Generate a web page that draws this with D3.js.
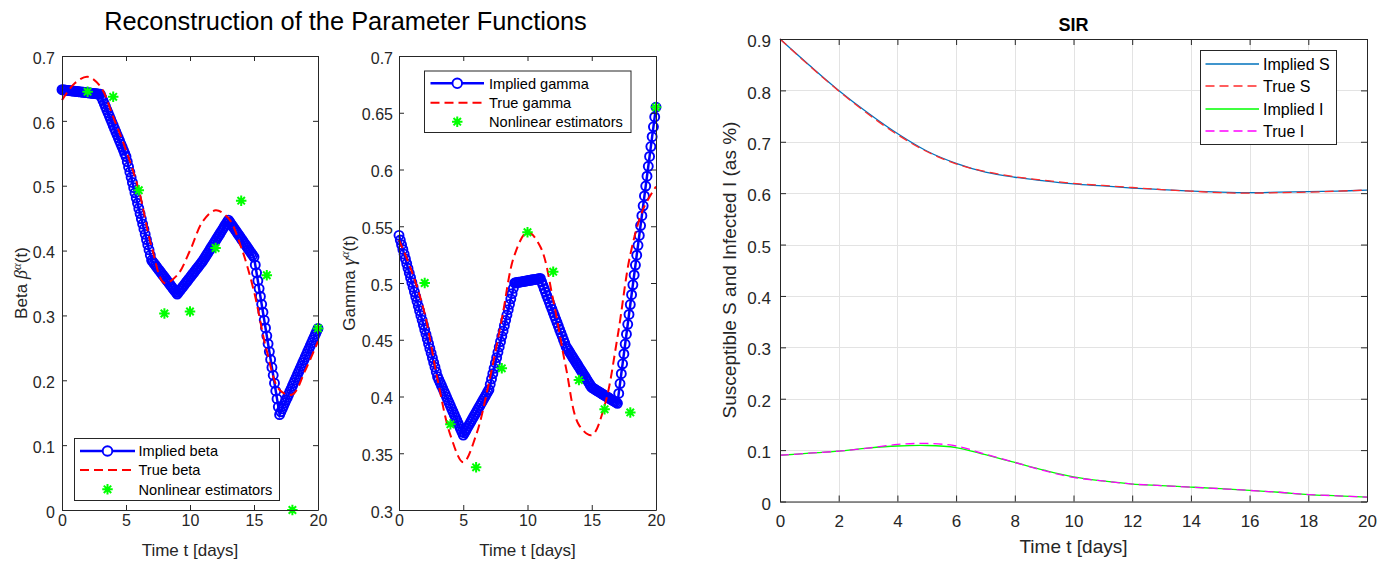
<!DOCTYPE html>
<html>
<head>
<meta charset="utf-8">
<script src="https://cdn.jsdelivr.net/npm/d3@7"></script>
<style>
  html, body { margin: 0; padding: 0; background: #fff; }
  svg { display: block; font-family: "Liberation Sans", Arial, sans-serif; }
</style>
</head>
<body>
<script>
// ---------- Parameter reconstruction data ----------
const knotDays = [0, 3, 5, 7, 9, 11, 13, 15, 17, 20];
const impliedBeta = [0.648, 0.641, 0.545, 0.385, 0.333, 0.384, 0.447, 0.390, 0.147, 0.280];
const impliedGamma = [0.542, 0.4175, 0.366, 0.406, 0.500, 0.504, 0.444, 0.408, 0.394, 0.655];

const trueDays = d3.range(0, 21);
const trueBeta = [0.632, 0.658, 0.668, 0.653, 0.606, 0.555, 0.493, 0.406, 0.350, 0.362, 0.400,
                  0.445, 0.462, 0.450, 0.405, 0.337, 0.245, 0.185, 0.178, 0.215, 0.260];
const trueGamma = [0.538, 0.510, 0.473, 0.415, 0.366, 0.342, 0.366, 0.412, 0.468, 0.525, 0.545,
                   0.532, 0.485, 0.425, 0.375, 0.366, 0.392, 0.452, 0.525, 0.565, 0.585];

const estDays = [2, 4, 6, 8, 10, 12, 14, 16, 18, 20];
const betaEst = [0.645, 0.637, 0.493, 0.303, 0.306, 0.404, 0.477, 0.362, 0.0, 0.280];
const gammaEst = [0.500, 0.3755, 0.3376, 0.4248, 0.5447, 0.510, 0.4145, 0.3887, 0.386, 0.6548];

// ---------- SIR data ----------
const sirDays = d3.range(0, 21);
const impliedS = [0.900, 0.849, 0.800, 0.756, 0.716, 0.682, 0.658, 0.641, 0.631, 0.624, 0.618,
                  0.614, 0.610, 0.607, 0.604, 0.602, 0.601, 0.602, 0.603, 0.604, 0.606];
const trueS = [0.900, 0.848, 0.799, 0.754, 0.714, 0.681, 0.657, 0.642, 0.632, 0.625, 0.619,
               0.615, 0.611, 0.607, 0.604, 0.601, 0.600, 0.601, 0.602, 0.604, 0.606];
const impliedI = [0.090, 0.094, 0.098, 0.104, 0.108, 0.109, 0.105, 0.091, 0.076, 0.061, 0.048,
                  0.040, 0.034, 0.031, 0.028, 0.025, 0.0215, 0.018, 0.0135, 0.011, 0.0085];
const trueI = [0.090, 0.094, 0.098, 0.104, 0.111, 0.113, 0.108, 0.092, 0.076, 0.060, 0.047,
               0.040, 0.034, 0.031, 0.028, 0.025, 0.0215, 0.018, 0.0135, 0.011, 0.0085];

// ---------- Ticks ----------
const paramXTicks = [0, 5, 10, 15, 20];
const paramXLabels = ["0", "5", "10", "15", "20"];
const betaTicks = [0, 0.1, 0.2, 0.3, 0.4, 0.5, 0.6, 0.7];
const betaLabels = ["0", "0.1", "0.2", "0.3", "0.4", "0.5", "0.6", "0.7"];
const gammaTicks = [0.3, 0.35, 0.4, 0.45, 0.5, 0.55, 0.6, 0.65, 0.7];
const gammaLabels = ["0.3", "0.35", "0.4", "0.45", "0.5", "0.55", "0.6", "0.65", "0.7"];
const sirXTicks = [0, 2, 4, 6, 8, 10, 12, 14, 16, 18, 20];
const sirXLabels = ["0", "2", "4", "6", "8", "10", "12", "14", "16", "18", "20"];
const sirYTicks = [0, 0.1, 0.2, 0.3, 0.4, 0.5, 0.6, 0.7, 0.8, 0.9];
const sirYLabels = ["0", "0.1", "0.2", "0.3", "0.4", "0.5", "0.6", "0.7", "0.8", "0.9"];

// ---------- Drawing ----------
const W = 1389, H = 562;
const AX = "#262626";
const svg = d3.select("body").append("svg").attr("width", W).attr("height", H);
svg.append("rect").attr("width", W).attr("height", H).attr("fill", "#fff");

// eight-armed star used for the estimator markers
const asterisk = {
  draw(ctx, size) {
    const r = Math.sqrt(size) / 2, d = r * Math.SQRT1_2;
    ctx.moveTo(-r, 0); ctx.lineTo(r, 0);
    ctx.moveTo(0, -r); ctx.lineTo(0, r);
    ctx.moveTo(-d, -d); ctx.lineTo(d, d);
    ctx.moveTo(-d, d); ctx.lineTo(d, -d);
  }
};
const starPath = d3.symbol().type(asterisk).size(110)();

function panel(o) {
  const g = svg.append("g");
  const x = d3.scaleLinear().domain([0, 20]).range([o.left, o.right]);
  const y = d3.scaleLinear().domain(o.yDomain).range([o.bottom, o.top]);

  if (o.grid) {
    const gg = g.append("g").attr("stroke", "#e3e3e3").attr("stroke-width", 1);
    gg.selectAll("line.vx").data(o.xTicks).join("line")
      .attr("x1", d => Math.round(x(d)) + 0.5).attr("x2", d => Math.round(x(d)) + 0.5)
      .attr("y1", o.top).attr("y2", o.bottom);
    gg.selectAll("line.hy").data(o.yTicks).join("line")
      .attr("y1", d => Math.round(y(d)) + 0.5).attr("y2", d => Math.round(y(d)) + 0.5)
      .attr("x1", o.left).attr("x2", o.right);
  }

  const axes = g.append("g").attr("class", "axes");
  const style = sel => {
    sel.attr("color", AX).attr("font-family", null).attr("font-size", null);
    sel.selectAll("text").attr("font-size", o.tickFont + "px").attr("fill", AX);
    sel.select(".domain").attr("stroke-width", 1);
  };
  axes.append("g").attr("transform", `translate(0,${o.bottom})`)
    .call(d3.axisBottom(x).tickValues(o.xTicks).tickFormat((d, i) => o.xLabels[i])
      .tickSizeInner(-o.tickLen).tickSizeOuter(0).tickPadding(o.xPad)).call(style);
  axes.append("g").attr("transform", `translate(0,${o.top})`)
    .call(d3.axisTop(x).tickValues(o.xTicks).tickFormat(() => "")
      .tickSizeInner(-o.tickLen).tickSizeOuter(0)).call(style);
  const yl = axes.append("g").attr("transform", `translate(${o.left},0)`)
    .call(d3.axisLeft(y).tickValues(o.yTicks).tickFormat((d, i) => o.yLabels[i])
      .tickSizeInner(-o.tickLen).tickSizeOuter(0).tickPadding(o.yPad)).call(style);
  yl.selectAll("text").attr("dy", "0.45em");
  axes.append("g").attr("transform", `translate(${o.right},0)`)
    .call(d3.axisRight(y).tickValues(o.yTicks).tickFormat(() => "")
      .tickSizeInner(-o.tickLen).tickSizeOuter(0)).call(style);

  g.append("text").attr("x", (o.left + o.right) / 2).attr("y", o.xLabelY)
    .attr("text-anchor", "middle").attr("font-size", o.labelFont + "px").attr("fill", AX)
    .text("Time t [days]");

  return { g, x, y, axes };
}

function yLabel(g, x, y, size, parts) {
  const t = g.append("text").attr("transform", `translate(${x},${y}) rotate(-90)`)
    .attr("text-anchor", "middle").attr("font-size", size + "px").attr("fill", AX);
  parts.forEach(p => {
    const s = t.append("tspan").text(p.text);
    if (p.greek) s.attr("font-family", "'Liberation Serif', serif").attr("font-style", "italic")
      .attr("font-size", (size * 1.1) + "px");
    if (p.sup) s.attr("font-size", (size * 0.75) + "px").attr("dy", "-0.5em");
    if (p.after) s.attr("dy", "0.38em");
  });
}

function paramPanel(o) {
  const p = panel(o);
  const fn = d3.scaleLinear().domain(knotDays).range(o.implied);
  const samples = d3.range(0, 201).map(i => i / 10);
  const line = d3.line().x(d => p.x(d)).y(d => p.y(fn(d)));
  const data = p.g.append("g");
  data.append("path").datum(samples).attr("d", line)
    .attr("fill", "none").attr("stroke", "#0000ff").attr("stroke-width", 2.5);
  data.append("g").selectAll("circle").data(samples).join("circle")
    .attr("cx", d => p.x(d)).attr("cy", d => p.y(fn(d))).attr("r", 4.5)
    .attr("fill", "none").attr("stroke", "#0000ff").attr("stroke-width", 1.9);
  data.append("path").datum(trueDays)
    .attr("d", d3.line().x(d => p.x(d)).y((d, i) => p.y(o.trueVals[i])).curve(d3.curveCatmullRom))
    .attr("fill", "none").attr("stroke", "#ff0000").attr("stroke-width", 2)
    .attr("stroke-dasharray", "9,5");
  data.append("g").selectAll("path").data(estDays).join("path")
    .attr("transform", (d, i) => `translate(${p.x(d)},${p.y(o.est[i])})`)
    .attr("d", starPath).attr("fill", "none").attr("stroke", "#00ff00").attr("stroke-width", 2);
  p.axes.raise();

  // legend
  const L = o.legend;
  const lg = p.g.append("g");
  lg.append("rect").attr("x", L.x0 + 0.5).attr("y", L.y0 + 0.5).attr("width", L.x1 - L.x0)
    .attr("height", L.y1 - L.y0).attr("fill", "#fff").attr("stroke", AX).attr("stroke-width", 1);
  const mid = (L.lx0 + L.lx1) / 2;
  lg.append("line").attr("x1", L.lx0).attr("x2", L.lx1).attr("y1", L.rows[0]).attr("y2", L.rows[0])
    .attr("stroke", "#0000ff").attr("stroke-width", 2.5);
  lg.append("circle").attr("cx", mid).attr("cy", L.rows[0]).attr("r", 4.8)
    .attr("fill", "#fff").attr("stroke", "#0000ff").attr("stroke-width", 1.9);
  lg.append("line").attr("x1", L.lx0).attr("x2", L.lx1).attr("y1", L.rows[1]).attr("y2", L.rows[1])
    .attr("stroke", "#ff0000").attr("stroke-width", 2).attr("stroke-dasharray", "9,5");
  lg.append("path").attr("transform", `translate(${mid},${L.rows[2]})`).attr("d", starPath)
    .attr("fill", "none").attr("stroke", "#00ff00").attr("stroke-width", 2);
  L.labels.forEach((s, i) => lg.append("text").attr("x", L.tx).attr("y", L.rows[i])
    .attr("dy", "0.36em").attr("font-size", "14.6px").attr("fill", "#000").text(s));
  return p;
}

// Beta panel
const pb = paramPanel({
  left: 62, right: 318, top: 56, bottom: 510, yDomain: [0, 0.7],
  xTicks: paramXTicks, xLabels: paramXLabels, yTicks: betaTicks, yLabels: betaLabels,
  tickLen: 5, tickFont: 16, labelFont: 17, xPad: 5, yPad: 7, xLabelY: 556,
  implied: impliedBeta, trueVals: trueBeta, est: betaEst,
  legend: { x0: 74, y0: 438, x1: 279, y1: 500, lx0: 80, lx1: 135, tx: 138.5,
            rows: [451, 470, 489.3], labels: ["Implied beta", "True beta", "Nonlinear estimators"] }
});
yLabel(pb.g, 27, 283, 17, [{ text: "Beta " }, { text: "β", greek: true }, { text: "α", greek: true, sup: true }, { text: "(t)", after: true }]);

// Gamma panel
const pg = paramPanel({
  left: 399, right: 656, top: 56, bottom: 510, yDomain: [0.3, 0.7],
  xTicks: paramXTicks, xLabels: paramXLabels, yTicks: gammaTicks, yLabels: gammaLabels,
  tickLen: 5, tickFont: 16, labelFont: 17, xPad: 5, yPad: 6, xLabelY: 556,
  implied: impliedGamma, trueVals: trueGamma, est: gammaEst,
  legend: { x0: 424, y0: 70.5, x1: 630.5, y1: 132, lx0: 430.5, lx1: 484, tx: 489,
            rows: [83.3, 102.7, 121.7], labels: ["Implied gamma", "True gamma", "Nonlinear estimators"] }
});
yLabel(pg.g, 355, 283, 17, [{ text: "Gamma " }, { text: "γ", greek: true }, { text: "α", greek: true, sup: true }, { text: "(t)", after: true }]);

svg.append("text").attr("x", 345.5).attr("y", 30).attr("text-anchor", "middle")
  .attr("font-size", "25.4px").attr("fill", "#000").text("Reconstruction of the Parameter Functions");

// SIR panel
const ps = panel({
  left: 780, right: 1367, top: 39, bottom: 501.5, yDomain: [0, 0.9], grid: true,
  xTicks: sirXTicks, xLabels: sirXLabels, yTicks: sirYTicks, yLabels: sirYLabels,
  tickLen: 6, tickFont: 17, labelFont: 19, xPad: 13, yPad: 9, xLabelY: 553
});
const sirSeries = [
  { vals: impliedS, color: "#0072bd", dash: null, label: "Implied S" },
  { vals: trueS, color: "#ff2a2a", dash: "9,5", label: "True S" },
  { vals: impliedI, color: "#00ff00", dash: null, label: "Implied I" },
  { vals: trueI, color: "#ff00ff", dash: "9,5", label: "True I" }
];
const sirG = ps.g.append("g");
sirSeries.forEach(s => {
  sirG.append("path").datum(sirDays)
    .attr("d", d3.line().x(d => ps.x(d)).y((d, i) => ps.y(s.vals[i])).curve(d3.curveCatmullRom))
    .attr("fill", "none").attr("stroke", s.color).attr("stroke-width", 1.3)
    .attr("stroke-dasharray", s.dash);
});
ps.axes.raise();
const sl = ps.g.append("g");
sl.append("rect").attr("x", 1200.5).attr("y", 50.5).attr("width", 136).attr("height", 94)
  .attr("fill", "#fff").attr("stroke", AX).attr("stroke-width", 1);
const sRows = [64, 86, 109, 131];
sirSeries.forEach((s, i) => {
  sl.append("line").attr("x1", 1205.5).attr("x2", 1259).attr("y1", sRows[i]).attr("y2", sRows[i])
    .attr("stroke", s.color).attr("stroke-width", 1.3).attr("stroke-dasharray", s.dash);
  sl.append("text").attr("x", 1263).attr("y", sRows[i]).attr("dy", "0.36em")
    .attr("font-size", "16px").attr("fill", "#000").text(s.label);
});
yLabel(ps.g, 736, 270, 19, [{ text: "Susceptible S and Infected I (as %)" }]);
svg.append("text").attr("x", 1073.5).attr("y", 30.5).attr("text-anchor", "middle")
  .attr("font-size", "18px").attr("font-weight", "bold").attr("fill", "#000").text("SIR");
</script>
</body>
</html>
